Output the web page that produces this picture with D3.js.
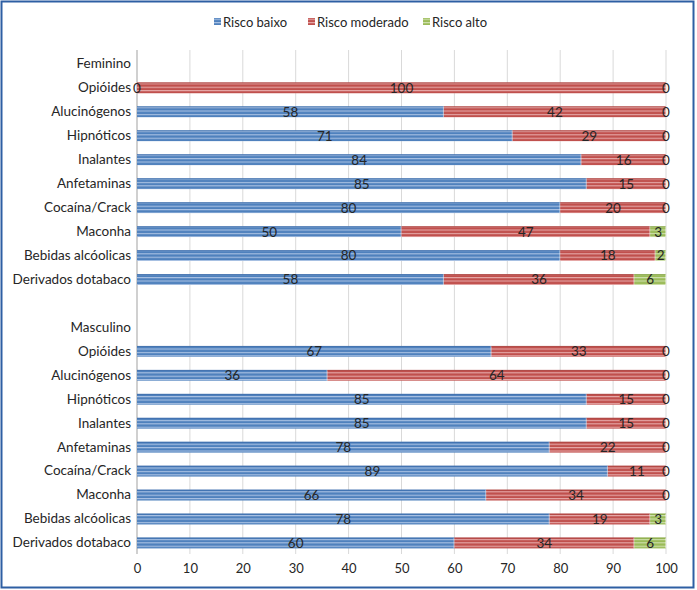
<!DOCTYPE html>
<html><head><meta charset="utf-8">
<script src="https://cdn.jsdelivr.net/npm/d3@7"></script>
<style>body{margin:0;background:#fff}svg{display:block}text{font-family:Lato,"Open Sans",sans-serif;fill:#262626}</style>
</head><body><svg id="c" width="697" height="590"></svg>
<script>
const categories = ["Feminino","Opióides","Alucinógenos","Hipnóticos","Inalantes","Anfetaminas","Cocaína/Crack","Maconha","Bebidas alcóolicas","Derivados dotabaco","",
 "Masculino","Opióides","Alucinógenos","Hipnóticos","Inalantes","Anfetaminas","Cocaína/Crack","Maconha","Bebidas alcóolicas","Derivados dotabaco"];
const seriesNames = ["Risco baixo","Risco moderado","Risco alto"];
const riscoBaixo =    [null,0,58,71,84,85,80,50,80,58,null,null,67,36,85,85,78,89,66,78,60];
const riscoModerado = [null,100,42,29,16,15,20,47,18,36,null,null,33,64,15,15,22,11,34,19,34];
const riscoAlto =     [null,0,0,0,0,0,0,3,2,6,null,null,0,0,0,0,0,0,0,3,6];
const xTicks = [0,10,20,30,40,50,60,70,80,90,100];

const colors = ["#4f81bd","#c0504d","#9bbb59"];
const light = ["#a9c1e3","#e6a9a8","#cfe0ad"];
const dark = ["#3a6aa8","#a94441","#86a547"];

const svg = d3.select("#c");
const defs = svg.append("defs");
colors.forEach((c,i)=>{
  const p = defs.append("pattern").attr("id","p"+i).attr("patternUnits","userSpaceOnUse")
    .attr("width",4).attr("height",3.4);
  p.append("rect").attr("width",4).attr("height",3.4).attr("fill",c);
  p.append("rect").attr("y",1.7).attr("width",4).attr("height",1.1).attr("fill",light[i]);
});

svg.append("rect").attr("x",1.5).attr("y",1.5).attr("width",692).attr("height",586)
  .attr("fill","#fff").attr("stroke","#2e5fa3").attr("stroke-width",2);

const x = d3.scaleLinear().domain([0,100]).range([137,666]);
const y = d3.scaleBand().domain(d3.range(categories.length)).range([52,555]).paddingInner(0.55).paddingOuter(0.275);

const g = svg.append("g");
g.selectAll(".grid").data(xTicks.slice(1)).join("line")
  .attr("x1",d=>x(d)).attr("x2",d=>x(d)).attr("y1",50).attr("y2",554)
  .attr("stroke","#d9d9d9").attr("stroke-width",1);
g.append("line").attr("x1",x(0)).attr("x2",x(0)).attr("y1",50).attr("y2",554)
  .attr("stroke","#d0d0d0").attr("stroke-width",2);

const xAxis = d3.axisBottom(x).tickValues(xTicks).tickSize(0).tickPadding(0);
const ax = svg.append("g").attr("transform","translate(0,564)").call(xAxis);
ax.select(".domain").remove();
ax.selectAll("text").attr("font-size",13).attr("font-family","Lato,sans-serif").attr("fill","#595959");

const yAxis = d3.axisLeft(y).tickFormat(i=>categories[i]).tickSize(0).tickPadding(0);
const ay = svg.append("g").attr("transform","translate(131,0)").call(yAxis);
ay.select(".domain").remove();
ay.selectAll("text").attr("font-size",13.5).attr("font-family","Lato,sans-serif").attr("fill","#262626");

const series = [riscoBaixo,riscoModerado,riscoAlto];
const rows = d3.range(categories.length).filter(i=>riscoBaixo[i]!==null);
const bh = y.bandwidth();
const barG = svg.append("g"), labG = svg.append("g");
series.forEach((s,si)=>{
  rows.forEach(i=>{
    let start = 0; for(let k=0;k<si;k++) start += series[k][i];
    const v = s[i];
    const x0 = x(start), x1 = x(start+v);
    const yy = y(i);
    if(v>0){
      barG.append("rect").attr("x",x0).attr("y",yy).attr("width",x1-x0).attr("height",bh)
        .attr("fill","url(#p"+si+")");
      barG.append("line").attr("x1",x0).attr("x2",x1).attr("y1",yy+0.4).attr("y2",yy+0.4)
        .attr("stroke",dark[si]).attr("stroke-width",0.8);
      barG.append("line").attr("x1",x1-0.4).attr("x2",x1-0.4).attr("y1",yy).attr("y2",yy+bh)
        .attr("stroke","#ffffff").attr("stroke-opacity",0.6).attr("stroke-width",0.8);
    }
    labG.append("text").attr("x",(x0+x1)/2).attr("y",yy+bh/2).attr("dy","0.36em")
      .attr("text-anchor","middle").attr("font-size",13.5).attr("fill","#1a1a1a").text(v);
  });
});

const legX = [214,308,423];
const lg = svg.append("g");
seriesNames.forEach((n,i)=>{
  lg.append("rect").attr("x",legX[i]).attr("y",18).attr("width",7).attr("height",7).attr("fill","url(#p"+i+")");
  lg.append("text").attr("x",legX[i]+9).attr("y",22).attr("dy","0.36em").attr("font-size",13).attr("fill","#404040").text(n);
});
</script></body></html>
